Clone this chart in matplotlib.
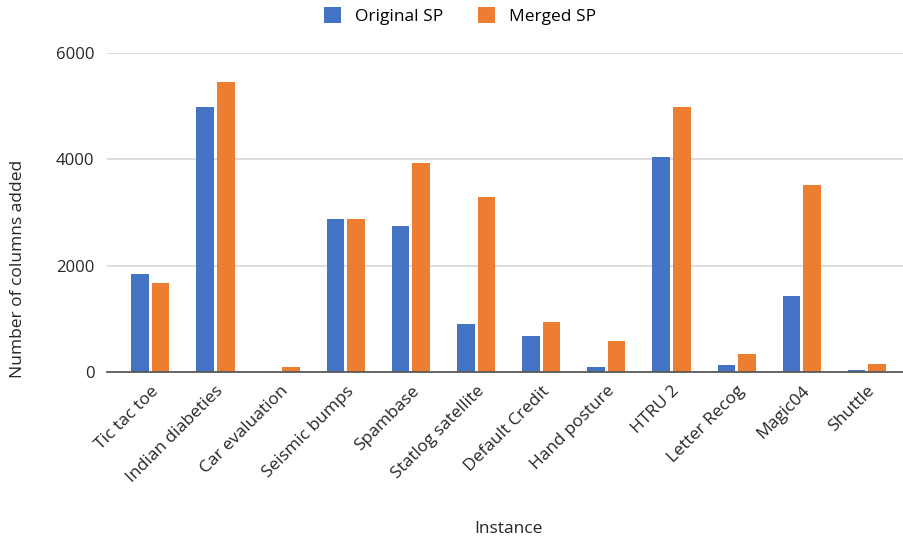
import numpy as np
import matplotlib.pyplot as plt

plt.rcParams["font.family"] = ["Open Sans", "DejaVu Sans"]

# Values
instances = ["Tic tac toe", "Indian diabeties", "Car evaluation", "Seismic bumps",
             "Spambase", "Statlog satellite", "Default Credit", "Hand posture",
             "HTRU 2", "Letter Recog", "Magic04", "Shuttle"]
original_sp = [1843, 4987, 0, 2874, 2755, 912, 673, 94, 4050, 126, 1421, 38]
merged_sp = [1667, 5447, 94, 2874, 3931, 3296, 937, 578, 4987, 340, 3509, 157]
y_ticks = [0, 2000, 4000, 6000]

BLUE = "#4472C4"
ORANGE = "#ED7D31"
TEXT = "#262626"

fig = plt.figure(figsize=(9.04, 5.44), dpi=100)
ax = fig.add_axes([107 / 904, 1 - 372 / 544, 797 / 904, 319 / 544])

x = np.arange(len(instances))
w = 0.27
off = 0.158
ax.bar(x - off, original_sp, width=w, color=BLUE, label="Original SP", zorder=3)
ax.bar(x + off, merged_sp, width=w, color=ORANGE, label="Merged SP", zorder=3)

ax.set_xlim(-0.665, 11.57)
ax.set_ylim(0, 6000)
ax.set_yticks(y_ticks)
ax.set_yticklabels([str(t) for t in y_ticks], fontsize=12, color=TEXT)
ax.yaxis.grid(True, color="#D9D9D9", linewidth=1.3, zorder=0)
ax.tick_params(axis="y", length=0, pad=9)

ax.set_xticks(x)
ax.set_xticklabels(instances, rotation=45, ha="right", rotation_mode="anchor",
                   fontsize=12.5, color=TEXT)
ax.tick_params(axis="x", length=0, pad=8)

for side in ["top", "right", "left"]:
    ax.spines[side].set_visible(False)
ax.spines["bottom"].set_color("#595959")
ax.spines["bottom"].set_linewidth(1.3)
ax.spines["bottom"].set_zorder(4)

fig.text(18 / 904, 1 - 269 / 544, "Number of columns added", rotation=90,
         ha="center", va="center", fontsize=12.5, color=TEXT)
fig.text(508 / 904, 1 - 529 / 544, "Instance", ha="center", va="center",
         fontsize=12.5, color=TEXT)

fig.legend(loc="center", bbox_to_anchor=(460 / 904, 1 - 16 / 544), ncol=2,
           frameon=False, fontsize=12.5, handlelength=1.0, handleheight=1.0,
           columnspacing=2.0, handletextpad=0.8)

fig.savefig("out.png", dpi=100)
